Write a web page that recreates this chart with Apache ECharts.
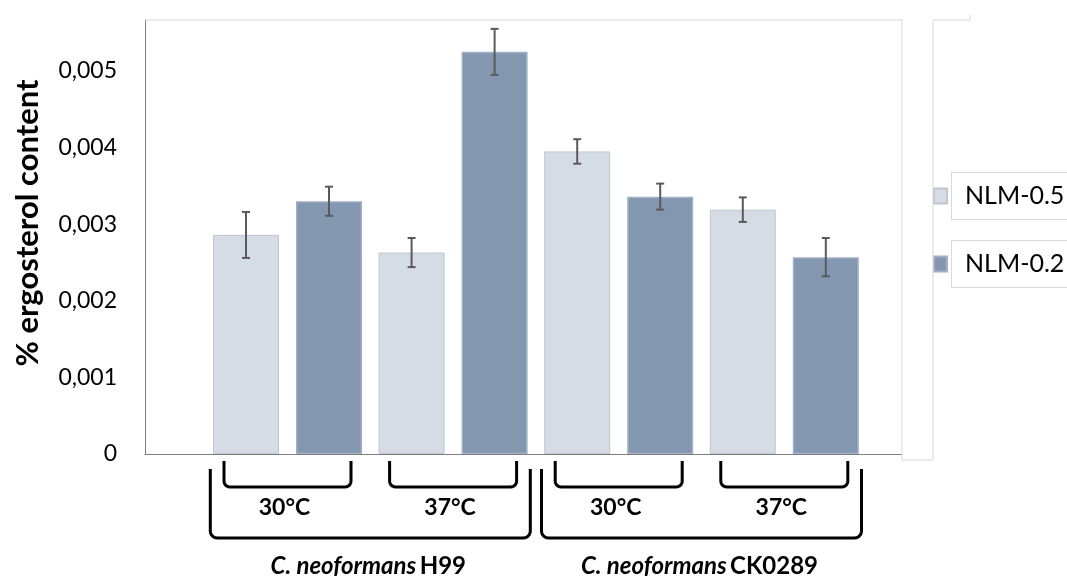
<!DOCTYPE html>
<html>
<head>
<meta charset="utf-8">
<style>
  html, body { margin: 0; padding: 0; background: #fff; }
  #chart { width: 1067px; height: 576px; }
</style>
<script src="https://cdn.jsdelivr.net/npm/echarts@6/dist/echarts.min.js"></script>
</head>
<body>
<div id="chart"></div>
<script>
// Ergosterol content per strain / temperature, two media
const categories = ['H99 30°C', 'H99 37°C', 'CK0289 30°C', 'CK0289 37°C'];
const tempLabels = ['30°C', '37°C', '30°C', '37°C'];
const strainNames = ['H99', 'CK0289'];
const speciesName = 'C. neoformans';
const seriesNames = ['NLM-0.5', 'NLM-0.2'];
const nlm05 = [0.00286, 0.00263, 0.00395, 0.00319];
const nlm02 = [0.00330, 0.00525, 0.00336, 0.00257];
const err05 = [0.00030, 0.00019, 0.00016, 0.00016];
const err02 = [0.00019, 0.00030, 0.00017, 0.00025];
const yAxisTitle = '% ergosterol content';

const FONT = 'Lato';
const BAR_W = 66;
const BAR_GAP = 17;
const Y_MAX = 0.005666;

const chart = echarts.init(document.getElementById('chart'));

function errorSeries(values, errs, offset) {
  return {
    type: 'custom',
    xAxisIndex: 1,
    yAxisIndex: 1,
    z: 5,
    silent: true,
    data: values.map((v, i) => [i, v, errs[i]]),
    renderItem: function (params, api) {
      const i = api.value(0), v = api.value(1), e = api.value(2);
      const x = api.coord([i, v])[0] + offset;
      const top = api.coord([i, v + e])[1];
      const bot = api.coord([i, v - e])[1];
      const cap = 4;
      const style = { stroke: '#5a5a5a', lineWidth: 2 };
      return {
        type: 'group',
        children: [
          { type: 'line', shape: { x1: x, y1: top, x2: x, y2: bot }, style: style },
          { type: 'line', shape: { x1: x - cap, y1: top, x2: x + cap, y2: top }, style: style },
          { type: 'line', shape: { x1: x - cap, y1: bot, x2: x + cap, y2: bot }, style: style }
        ]
      };
    }
  };
}

const option = {
  backgroundColor: '#ffffff',
  animation: false,
  textStyle: { fontFamily: FONT },
  grid: [
    { left: 145, top: 20, width: 757, height: 434 },
    { left: 204.7, top: 20, width: 662.4, height: 434 }
  ],
  xAxis: [
    {
      gridIndex: 0, type: 'value', min: 0, max: 1,
      axisLine: { show: true, lineStyle: { color: '#7f7f7f', width: 1 } },
      axisTick: { show: false }, axisLabel: { show: false }, splitLine: { show: false }
    },
    {
      gridIndex: 1, type: 'category', data: categories, show: false
    }
  ],
  yAxis: [
    {
      gridIndex: 0, type: 'value', min: 0, max: Y_MAX, interval: 0.001,
      axisLine: { show: true, lineStyle: { color: '#7f7f7f', width: 1 } },
      axisTick: { show: false },
      splitLine: { show: false },
      axisLabel: {
        showMaxLabel: false,
        margin: 28,
        color: '#000',
        fontSize: 23,
        fontFamily: FONT,
        formatter: function (v) {
          if (v === 0) return '0';
          return v.toFixed(3).replace('.', ',');
        }
      }
    },
    {
      gridIndex: 1, type: 'value', min: 0, max: Y_MAX, show: false
    }
  ],
  legend: {
    orient: 'vertical',
    left: 933,
    top: 172,
    padding: 0,
    itemGap: 20,
    itemWidth: 13,
    itemHeight: 15,
    icon: 'rect',
    data: seriesNames,
    textStyle: {
      fontFamily: FONT,
      fontSize: 25,
      color: '#000',
      lineHeight: 28,
      padding: [9, 40, 9, 13],
      borderColor: '#d9d9d9',
      borderWidth: 1,
      backgroundColor: '#fff'
    }
  },
  series: [
    {
      name: seriesNames[0],
      type: 'bar',
      xAxisIndex: 1, yAxisIndex: 1,
      barWidth: BAR_W,
      barGap: (BAR_GAP / BAR_W * 100) + '%',
      data: nlm05,
      itemStyle: { color: '#d6dce5', borderColor: '#bfc6d0', borderWidth: 1 }
    },
    {
      name: seriesNames[1],
      type: 'bar',
      xAxisIndex: 1, yAxisIndex: 1,
      barWidth: BAR_W,
      barGap: (BAR_GAP / BAR_W * 100) + '%',
      data: nlm02,
      itemStyle: { color: '#8497b0', borderColor: '#a2aec1', borderWidth: 1.5 }
    },
    errorSeries(nlm05, err05, -(BAR_W + BAR_GAP) / 2),
    errorSeries(nlm02, err02, (BAR_W + BAR_GAP) / 2)
  ]
};

chart.setOption(option);

// Bracket annotations under the category axis
function bracketPoints(left, right, top, bottom, r) {
  const pts = [[left, top], [left, bottom - r]];
  const steps = 6;
  for (let k = 1; k <= steps; k++) {
    const a = (k / steps) * Math.PI / 2;
    pts.push([left + r - r * Math.cos(a), bottom - r + r * Math.sin(a)]);
  }
  pts.push([right - r, bottom]);
  for (let k = 1; k <= steps; k++) {
    const a = (k / steps) * Math.PI / 2;
    pts.push([right - r + r * Math.sin(a), bottom - r * (1 - Math.cos(a))]);
  }
  pts.push([right, top]);
  return pts;
}

const centers = categories.map((c, i) =>
  chart.convertToPixel({ xAxisIndex: 1, yAxisIndex: 1 }, [i, 0])[0]);

const graphics = [];
const bracketStyle = { stroke: '#000', lineWidth: 3, fill: null, lineJoin: 'round' };

centers.forEach((cx, i) => {
  graphics.push({
    type: 'polyline', silent: true,
    shape: { points: bracketPoints(cx - 63.5, cx + 63.5, 461, 487, 6) },
    style: bracketStyle
  });
  graphics.push({
    type: 'text', silent: true, x: cx - 3, y: 508,
    style: {
      text: tempLabels[i], fontFamily: FONT, fontSize: 23, fontWeight: 'bold',
      fill: '#000', align: 'center', verticalAlign: 'middle'
    }
  });
});

strainNames.forEach((s, g) => {
  const cx = (centers[2 * g] + centers[2 * g + 1]) / 2;
  graphics.push({
    type: 'polyline', silent: true,
    shape: { points: bracketPoints(cx - 160, cx + 160, 469, 538, 7) },
    style: bracketStyle
  });
  graphics.push({
    type: 'text', silent: true, x: cx - 2, y: 566,
    style: {
      text: '{i|' + speciesName + '} {b|' + s + '}',
      align: 'center', verticalAlign: 'middle',
      rich: {
        i: { fontFamily: FONT, fontSize: 24, fontWeight: 'bold', fontStyle: 'italic', fill: '#000' },
        b: { fontFamily: FONT, fontSize: 24, fontWeight: 'bold', fill: '#000' }
      }
    }
  });
});

// Axis title
graphics.push({
  type: 'text', silent: true, x: 28, y: 223, rotation: Math.PI / 2,
  style: {
    text: yAxisTitle, fontFamily: FONT, fontSize: 31, fontWeight: 'bold',
    fill: '#000', align: 'center', verticalAlign: 'middle'
  }
});

// Plot-area and legend-area frame lines
const frame = '#d9d9d9';
[
  [145, 20, 902, 20],
  [902, 20, 902, 460],
  [933, 20, 933, 460],
  [902, 460, 933, 460],
  [933, 20, 970, 20],
  [970, 15, 970, 20]
].forEach(l => graphics.push({
  type: 'line', silent: true, z: 10,
  shape: { x1: l[0], y1: l[1], x2: l[2], y2: l[3] },
  style: { stroke: frame, lineWidth: 1 }
}));

chart.setOption({ graphic: graphics });
</script>
</body>
</html>
